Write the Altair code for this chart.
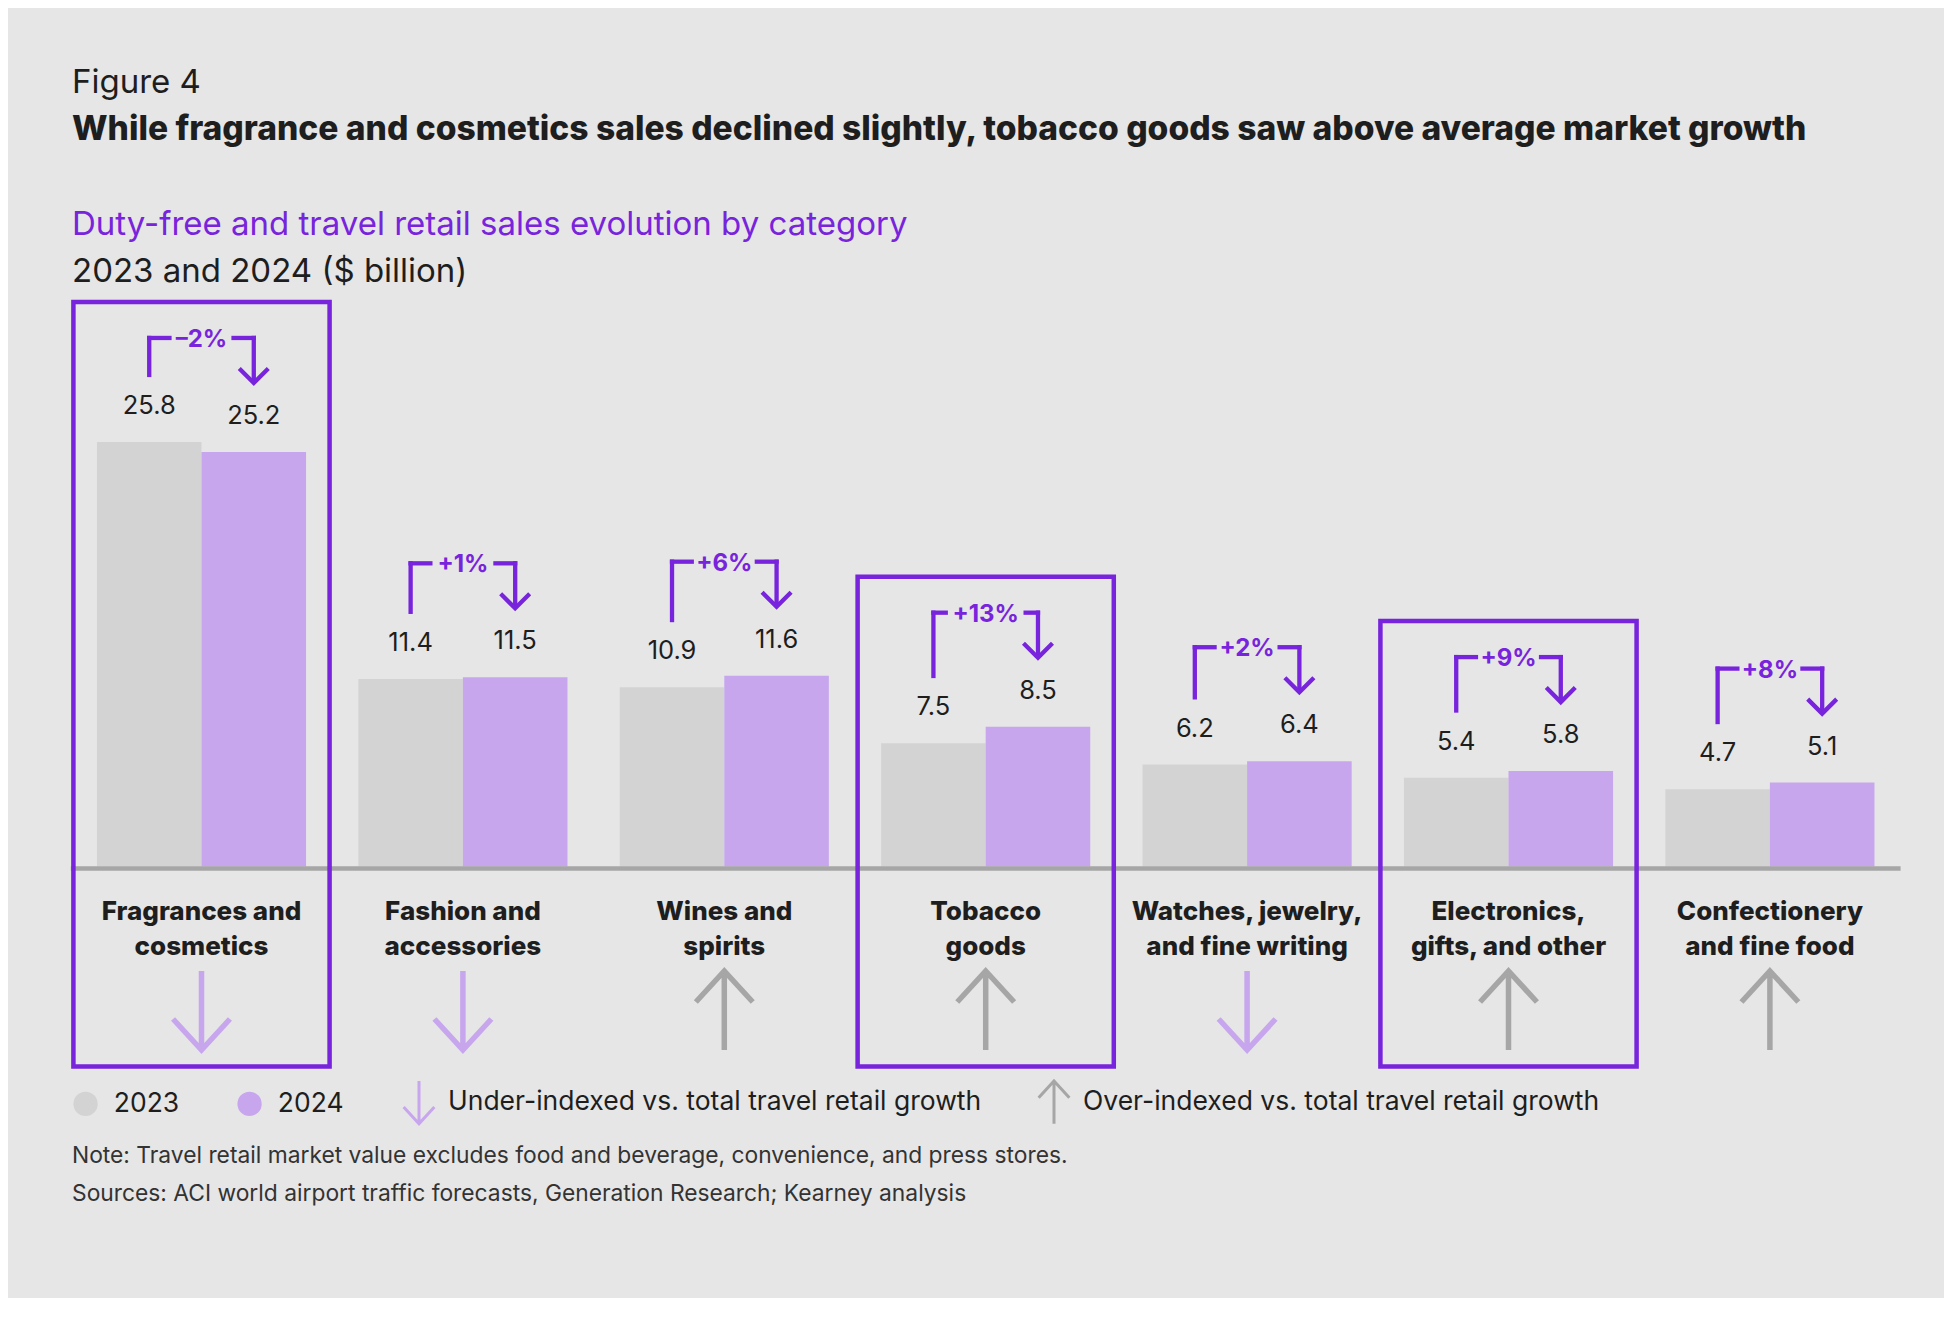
import altair as alt
import pandas as pd

# ---------------- data ----------------
categories = [
    "Fragrances and\ncosmetics",
    "Fashion and\naccessories",
    "Wines and\nspirits",
    "Tobacco\ngoods",
    "Watches, jewelry,\nand fine writing",
    "Electronics,\ngifts, and other",
    "Confectionery\nand fine food",
]
sales_2023 = [25.8, 11.4, 10.9, 7.5, 6.2, 5.4, 4.7]
sales_2024 = [25.2, 11.5, 11.6, 8.5, 6.4, 5.8, 5.1]
growth = ["–2%", "+1%", "+6%", "+13%", "+2%", "+9%", "+8%"]
indexed = ["under", "under", "over", "over", "under", "over", "over"]
highlighted = [True, False, False, True, False, True, False]
years = ["2023", "2024"]
index_keys = ["under", "over"]
index_labels = [
    "Under-indexed vs. total travel retail growth",
    "Over-indexed vs. total travel retail growth",
]

figure_label = "Figure 4"
title = "While fragrance and cosmetics sales declined slightly, tobacco goods saw above average market growth"
subtitle = "Duty-free and travel retail sales evolution by category"
unit_line = "2023 and 2024 ($ billion)"
note = "Note: Travel retail market value excludes food and beverage, convenience, and press stores."
sources = "Sources: ACI world airport traffic forecasts, Generation Research; Kearney analysis"

# ---------------- style / layout ----------------
BG = "#E6E6E6"
PURPLE = "#7823DC"
LAV = "#C7A6EE"
GRAY_BAR = "#D3D3D3"
GRAY_LINE = "#A6A6A6"
DARK = "#1E1E1E"
FONT = "Inter"

W, H = 1936, 1290
PX_PER_BN = 16.45
STEP = 261.4
X_FIRST = 193.5
Y_ZERO = 858.5
BAR_HALF = 0.4
BOX_HALF = 0.49
TEXT_X = 64


def px(p):
    return p / PX_PER_BN


xs = alt.Scale(domain=[-X_FIRST / STEP, (W - X_FIRST) / STEP], nice=False, zero=False)
ys = alt.Scale(domain=[-(H - Y_ZERO) / PX_PER_BN, Y_ZERO / PX_PER_BN], nice=False, zero=False)

CHAR_W = {"+": 15.0, "–": 14.0, "%": 21.0}


def label_w(s):
    return sum(CHAR_W.get(c, 14.8) for c in s)


bar_rows = []
for i in range(len(categories)):
    for j, (yr, vals) in enumerate(zip(years, [sales_2023, sales_2024])):
        bar_rows.append(dict(
            i=i, year=yr, value=vals[i], zero=0,
            x0=i - BAR_HALF + j * BAR_HALF, x1=i + j * BAR_HALF,
            xc=i - BAR_HALF / 2 + j * BAR_HALF,
        ))
bars_df = pd.DataFrame(bar_rows)

cat_rows = []
for i, name in enumerate(categories):
    gap = (label_w(growth[i]) / 2 + 5) / STEP
    cat_rows.append(dict(
        i=i, name=name, v23=sales_2023[i], v24=sales_2024[i], growth=growth[i],
        indexed=indexed[i],
        xl=i - BAR_HALF / 2, xr=i + BAR_HALF / 2, xgl=i - gap, xgr=i + gap,
    ))
cat_df = pd.DataFrame(cat_rows)

box_rows = []
for i, h in enumerate(highlighted):
    if h:
        box_rows.append(dict(
            bl=i - BOX_HALF, br=i + BOX_HALF,
            top=sales_2024[i] + px(150), bottom=-px(1058.5 - Y_ZERO),
        ))
box_df = pd.DataFrame(box_rows)

base_df = pd.DataFrame({"a": [-0.5], "b": [len(categories) - 0.5], "z": [0]})

# ---------------- layers ----------------
year_legend = alt.Legend(
    title=None, orient="none", legendX=64.3, legendY=1082.5, direction="horizontal",
    symbolType="circle", symbolSize=590, symbolStrokeWidth=0,
    labelFont=FONT, labelFontSize=26.5, labelColor=DARK, labelOffset=15,
    columnPadding=57, padding=0, labelLimit=400,
)

bars = alt.Chart(bars_df).mark_bar().encode(
    x=alt.X("x0:Q", scale=xs, axis=None),
    x2="x1:Q",
    y=alt.Y("value:Q", scale=ys, axis=None),
    y2="zero:Q",
    color=alt.Color("year:N", scale=alt.Scale(domain=years, range=[GRAY_BAR, LAV]), legend=year_legend),
)

values = alt.Chart(bars_df).mark_text(
    font=FONT, fontSize=25.5, dy=-28, baseline="alphabetic", align="center", color=DARK
).encode(
    x=alt.X("xc:Q", scale=xs, axis=None),
    y=alt.Y("value:Q", scale=ys, axis=None),
    text=alt.Text("value:Q", format=".1f"),
)

baseline = alt.Chart(base_df).mark_rule(color=GRAY_LINE, strokeWidth=4.5, yOffset=2).encode(
    x=alt.X("a:Q", scale=xs, axis=None), x2="b:Q", y=alt.Y("z:Q", scale=ys, axis=None)
)

boxes = alt.Chart(box_df).mark_rect(fillOpacity=0, stroke=PURPLE, strokeWidth=4.5).encode(
    x=alt.X("bl:Q", scale=xs, axis=None), x2="br:Q",
    y=alt.Y("top:Q", scale=ys, axis=None), y2="bottom:Q",
)

SW = 4.3
TOP = -114
TIP = -69

left_leg = alt.Chart(cat_df).mark_rule(color=PURPLE, strokeWidth=SW, yOffset=-65, y2Offset=TOP - SW / 2).encode(
    x=alt.X("xl:Q", scale=xs, axis=None), y=alt.Y("v23:Q", scale=ys, axis=None), y2="v24:Q"
)
left_seg = alt.Chart(cat_df).mark_rule(color=PURPLE, strokeWidth=SW, yOffset=TOP, xOffset=-SW / 2).encode(
    x=alt.X("xl:Q", scale=xs, axis=None), x2="xgl:Q", y=alt.Y("v24:Q", scale=ys, axis=None)
)
right_seg = alt.Chart(cat_df).mark_rule(color=PURPLE, strokeWidth=SW, yOffset=TOP, x2Offset=SW / 2).encode(
    x=alt.X("xgr:Q", scale=xs, axis=None), x2="xr:Q", y=alt.Y("v24:Q", scale=ys, axis=None)
)
right_leg = alt.Chart(cat_df).mark_rule(color=PURPLE, strokeWidth=SW, yOffset=TOP - SW / 2, y2Offset=TIP).encode(
    x=alt.X("xr:Q", scale=xs, axis=None), y=alt.Y("v24:Q", scale=ys, axis=None), y2="v24:Q"
)
chevron = alt.Chart(cat_df).mark_point(
    shape="M-1,-1L0,0L1,-1", size=841, filled=False, strokeWidth=SW, opacity=1,
    color=PURPLE, yOffset=TIP, strokeJoin="miter", strokeCap="butt",
).encode(x=alt.X("xr:Q", scale=xs, axis=None), y=alt.Y("v24:Q", scale=ys, axis=None))

growth_text = alt.Chart(cat_df).mark_text(
    font=FONT, fontSize=24, fontWeight="bold", color=PURPLE, dy=TOP + 9,
    baseline="alphabetic", align="center",
).encode(x=alt.X("i:Q", scale=xs, axis=None), y=alt.Y("v24:Q", scale=ys, axis=None), text="growth:N")

cat_labels = alt.Chart(cat_df).mark_text(
    font=FONT, fontSize=26, fontWeight=800, color=DARK, lineBreak="\n", lineHeight=35,
    baseline="alphabetic", align="center",
).encode(x=alt.X("i:Q", scale=xs, axis=None), y=alt.value(912), text="name:N")

UP = "M0,1L0,-1M-0.72,-0.215L0,-1L0.72,-0.215"
DOWN = "M0,-1L0,1M-0.72,0.215L0,1L0.72,0.215"
label_expr = " : ".join(
    [f"datum.value == '{k}' ? '{l}'" for k, l in zip(index_keys[:-1], index_labels[:-1])]
    + [f"'{index_labels[-1]}'"]
)
arrow_legend = alt.Legend(
    title=None, orient="none", legendX=388, legendY=1071, direction="horizontal",
    symbolSize=1823, symbolStrokeWidth=3, labelExpr=label_expr,
    labelFont=FONT, labelFontSize=26.5, labelColor=DARK, labelOffset=6,
    columnPadding=49, padding=0, labelLimit=800,
)
arrows = alt.Chart(cat_df).mark_point(
    filled=False, size=6241, strokeWidth=5.5, opacity=1, strokeJoin="miter", strokeCap="butt"
).encode(
    x=alt.X("i:Q", scale=xs, axis=None),
    y=alt.value(1002.5),
    shape=alt.Shape("indexed:N", scale=alt.Scale(domain=index_keys, range=[DOWN, UP]), legend=arrow_legend),
    stroke=alt.Stroke("indexed:N", scale=alt.Scale(domain=index_keys, range=[LAV, GRAY_LINE]), legend=arrow_legend),
)


def text_line(txt, y, size, color=DARK, weight="normal"):
    return alt.Chart(pd.DataFrame({"t": [txt]})).mark_text(
        font=FONT, fontSize=size, fontWeight=weight, color=color, align="left", baseline="alphabetic"
    ).encode(x=alt.value(TEXT_X), y=alt.value(y), text="t:N")


header = [
    text_line(figure_label, 85, 33),
    text_line(title, 132, 33.6, weight=800),
    text_line(subtitle, 227, 33, color=PURPLE),
    text_line(unit_line, 274, 33),
    text_line(note, 1155.3, 22.8, color="#333333"),
    text_line(sources, 1193, 22.8, color="#333333"),
]

chart = alt.layer(
    bars, baseline, values, boxes, left_leg, left_seg, right_seg, right_leg, chevron,
    growth_text, cat_labels, arrows, *header
).resolve_scale(color="independent", stroke="independent", shape="independent").properties(
    width=W, height=H, background=BG, padding=0, autosize=alt.AutoSizeParams(type="none")
).configure_view(stroke=None)

chart.save("out.html", embed_options={"renderer": "svg", "actions": False})
